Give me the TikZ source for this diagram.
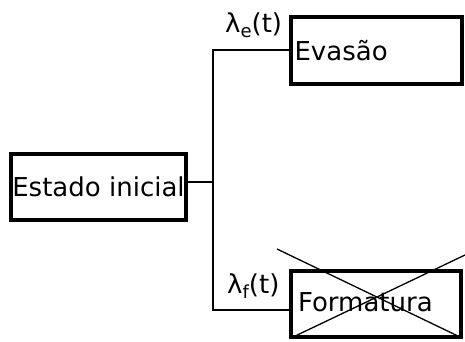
\documentclass[tikz,border=0pt]{standalone}
\usepackage{fontspec}
\setmainfont{DejaVu Sans}
\usetikzlibrary{calc}
\tikzset{
  estado/.style={draw,line width=4pt,rectangle,inner xsep=3pt,inner ysep=0pt},
  lig/.style={line width=1.8pt},
  taxa/.style={anchor=base west,inner sep=0pt}
}
\newcommand{\sub}[1]{\raisebox{-5pt}{\fontsize{18}{18}\selectfont #1}}
\begin{document}
\begin{tikzpicture}[x=1pt,y=-1pt,font=\fontsize{26}{26}\selectfont]
\pgfmathsetmacro{\xfork}{213}
\useasboundingbox (0,0) rectangle (465,342);

\node[estado,inner xsep=1pt,minimum width=172pt,minimum height=66pt] (ini) at (98.5,187) {Estado inicial};
\node[estado,minimum width=171pt,minimum height=67pt,text width=163pt,align=left] (evasao) at (376,50.5) {Evasão};
\node[estado,minimum width=170pt,minimum height=66pt,text width=162pt,align=left] (formatura) at (376,303.5) {\hspace{3pt}\raisebox{3pt}{Formatura}};

\coordinate (fork) at (\xfork,182);
\coordinate (up) at (\xfork,50);
\coordinate (down) at (\xfork,310);

\draw[lig] (ini.east |- fork) -- (fork);
\draw[lig] (evasao.west |- up) -- (up) -- (down) -- (formatura.west |- down);

\node[taxa] (le) at (225,33) {λ\sub{e}(t)};
\node[taxa] (lf) at (227,293) {λ\sub{f}(t)};

% cruz sobre a formatura
\draw[line width=1.3pt] (277,249) -- (460,337);
\draw[line width=1.3pt] (291,338) -- (465,255);

\end{tikzpicture}
\end{document}
